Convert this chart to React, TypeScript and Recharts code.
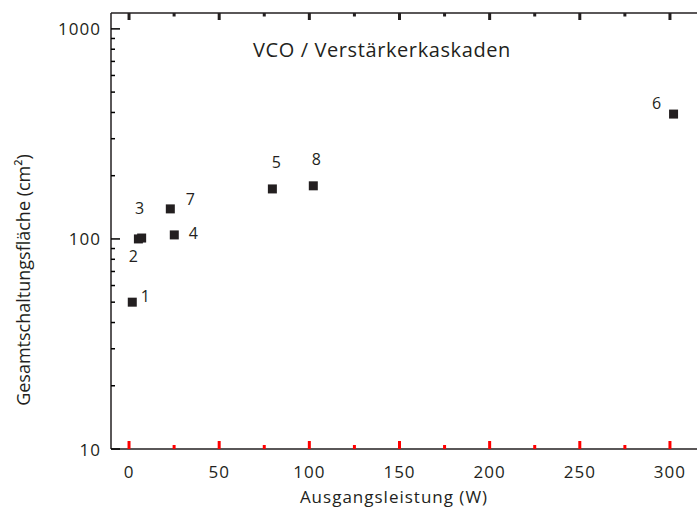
import { ScatterChart, Scatter, XAxis, YAxis } from 'recharts';

const labels = ['1', '2', '3', '4', '5', '6', '7', '8'];
const leistungW = [1.8, 5.2, 7, 25.1, 79.5, 302, 22.9, 102.2];
const flaecheCm2 = [50, 100, 101, 104.5, 173, 393, 139, 179];

const xTicks = [0, 25, 50, 75, 100, 125, 150, 175, 200, 225, 250, 275, 300];
const yTicks = [10, 20, 30, 40, 50, 60, 70, 80, 90, 100, 200, 300, 400, 500, 600, 700, 800, 900, 1000];
const yMajor = [10, 100, 1000];

// Lage der Punktnummern relativ zum Punkt (px)
const labelOffset: Record<string, [number, number]> = {
  '1': [13, -6], '2': [-5, 17], '3': [-2, -30], '4': [19, -2],
  '5': [4, -27], '6': [-17, -11], '7': [20, -10], '8': [3, -27],
};

const punkte = labels.map((l, i) => ({ label: l, x: leistungW[i], y: flaecheCm2[i] }));

const INK = '#231f20';
const FONT = '"Open Sans", sans-serif';

function BottomTick(props: any) {
  const { x, y, payload } = props;
  const major = payload.value % 50 === 0;
  const len = major ? 8 : 4;
  return (
    <g>
      <path d={`M${x},${y}V${y - len}`} stroke="red" strokeWidth={3} />
      {major && (
        <text x={x} y={y + 22} textAnchor="middle" dominantBaseline="central"
          fontFamily={FONT} fontSize={17} letterSpacing={1} fill={INK}>{payload.value}</text>
      )}
    </g>
  );
}

function TopTick(props: any) {
  const { x, y, payload } = props;
  const len = payload.value % 50 === 0 ? 7 : 3.5;
  return (
    <g>
      <path d={`M${x},${y}V${y + len}`} stroke={INK} strokeWidth={3} />
    </g>
  );
}

function LeftTick(props: any) {
  const { x, y, payload } = props;
  const major = yMajor.includes(payload.value);
  const len = major ? 9 : 4;
  return (
    <g>
      <path d={`M${x},${y}H${x + len}`} stroke="black" strokeWidth={1.5} />
      {major && (
        <text x={x - 10} y={y} textAnchor="end" dominantBaseline="central"
          fontFamily={FONT} fontSize={17} letterSpacing={1} fill={INK}>{payload.value}</text>
      )}
    </g>
  );
}

function Quadrat({ cx, cy, payload }: any) {
  const [dx, dy] = labelOffset[payload.label];
  return (
    <g>
      <rect x={cx - 4.5} y={cy - 4.5} width={9} height={9} fill={INK} />
      <text x={cx + dx} y={cy + dy} textAnchor="middle" dominantBaseline="central"
        fontFamily={FONT} fontSize={16} fill={INK}>{payload.label}</text>
    </g>
  );
}

export default function App() {
  return (
    <div style={{ position: 'absolute', left: 0, top: 0, width: 697, height: 529, background: '#fff' }}>
      <ScatterChart width={697} height={529} margin={{ top: 12, right: 0, bottom: 50, left: 0 }}>
        <XAxis type="number" dataKey="x" xAxisId="b" domain={[-10, 315]} ticks={xTicks} interval={0}
          allowDataOverflow height={30} tickSize={0} tickMargin={0} tick={<BottomTick />}
          axisLine={{ stroke: INK, strokeWidth: 1.5 }} />
        <XAxis type="number" dataKey="x" xAxisId="t" orientation="top" domain={[-10, 315]} ticks={xTicks}
          interval={0} allowDataOverflow height={1} tickSize={0} tickMargin={0} tick={<TopTick />}
          axisLine={{ stroke: INK, strokeWidth: 1.5 }} />
        <YAxis type="number" dataKey="y" scale="log" domain={[10, 1190]} ticks={yTicks} interval={0}
          allowDataOverflow width={111} tickSize={0} tickMargin={0} tick={<LeftTick />}
          axisLine={{ stroke: INK, strokeWidth: 1.5 }} />
        <Scatter data={punkte} xAxisId="b" shape={<Quadrat />} isAnimationActive={false} />
        <text x={382} y={49} textAnchor="middle" dominantBaseline="central"
          fontFamily={FONT} fontSize={20} letterSpacing={0.6} fill={INK}>VCO / Verstärkerkaskaden</text>
        <text x={394} y={496} textAnchor="middle" dominantBaseline="central"
          fontFamily={FONT} fontSize={17} letterSpacing={1} fill={INK}>Ausgangsleistung (W)</text>
        <text x={23} y={280} textAnchor="middle" dominantBaseline="central" transform="rotate(-90 23 280)"
          fontFamily={FONT} fontSize={18} fill={INK}>Gesamtschaltungsfläche (cm²)</text>
      </ScatterChart>
    </div>
  );
}
